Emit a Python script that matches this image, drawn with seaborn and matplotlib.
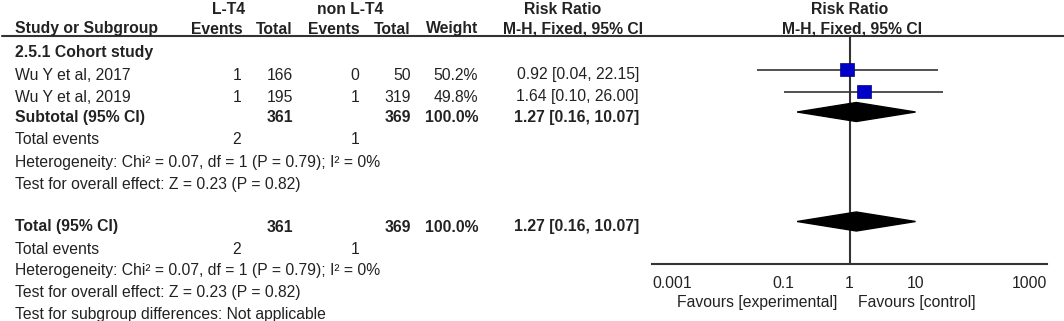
import numpy as np
import pandas as pd
import seaborn as sns
import matplotlib.pyplot as plt

# study data
studies = ["Wu Y et al, 2017", "Wu Y et al, 2019"]
lt4_events = [1, 1]
lt4_total = [166, 195]
non_events = [0, 1]
non_total = [50, 319]
weights = [50.2, 49.8]
rr = [0.92, 1.64]
rr_lo = [0.04, 0.10]
rr_hi = [22.15, 26.00]

# pooled result (subtotal and total are the same here)
pooled = [1.27, 0.16, 10.07]
sum_lt4_total = 361
sum_non_total = 369
sum_lt4_events = 2
sum_non_events = 1
het_text = "Heterogeneity: Chi\u00b2 = 0.07, df = 1 (P = 0.79); I\u00b2 = 0%"
effect_text = "Test for overall effect: Z = 0.23 (P = 0.82)"
subgroup_text = "Test for subgroup differences: Not applicable"

ticks = [0.001, 0.1, 1, 10, 1000]
tick_labels = ["0.001", "0.1", "1", "10", "1000"]

sns.set_theme(style="white")
plt.rcParams["font.family"] = ["Liberation Sans", "DejaVu Sans"]

TXT = "#222222"
LINE = "#333333"
FS = 11.3
W, H = 1064, 321

fig = plt.figure(figsize=(W / 100, H / 100), dpi=100)

# text layer in pixel units
tab = fig.add_axes([0, 0, 1, 1])
tab.set_xlim(0, W)
tab.set_ylim(H, 0)
tab.axis("off")

# row positions (pixels from top); text sits a bit below the marks
y_h1, y_h2, y_line = 9, 29, 35.5
y_group = 52
y_study = [69.5, 91.5]
y_sub, y_sub_ev, y_sub_het, y_sub_eff = 112, 134.5, 156.5, 178.5
y_tot, y_tot_ev, y_tot_het, y_tot_eff, y_sg = 221.5, 243.5, 265.5, 287.5, 309
dy_txt = 5.5
y_axis = 264

# column x positions (right edges)
x_name = 15
x_ev1, x_tot1, x_ev2, x_tot2, x_w, x_ci = 243, 293, 360, 411, 478, 639


def t(x, y, s, ha="left", bold=False):
    tab.text(x, y, s, ha=ha, va="center", fontsize=FS, color=TXT,
             fontweight="bold" if bold else "normal")


def row(x, y, s, ha="left", bold=False):
    t(x, y + dy_txt, s, ha=ha, bold=bold)


# headers
t(229, y_h1, "L-T4", ha="center", bold=True)
t(350, y_h1, "non L-T4", ha="center", bold=True)
t(563, y_h1, "Risk Ratio", ha="center", bold=True)
t(850, y_h1, "Risk Ratio", ha="center", bold=True)
t(x_name, y_h2, "Study or Subgroup", bold=True)
t(x_ev1, y_h2, "Events", ha="right", bold=True)
t(x_tot1, y_h2, "Total", ha="right", bold=True)
t(x_ev2, y_h2, "Events", ha="right", bold=True)
t(x_tot2, y_h2, "Total", ha="right", bold=True)
t(x_w, y_h2, "Weight", ha="right", bold=True)
t(x_ci + 4, y_h2, "M-H, Fixed, 95% CI", ha="right", bold=True)
t(852, y_h2, "M-H, Fixed, 95% CI", ha="center", bold=True)
tab.plot([2, W], [y_line, y_line], color=LINE, lw=1.5)

t(x_name, y_group, "2.5.1 Cohort study", bold=True)

for i, name in enumerate(studies):
    y = y_study[i]
    row(x_name, y, name)
    row(x_ev1 - 2, y, str(lt4_events[i]), ha="right")
    row(x_tot1, y, str(lt4_total[i]), ha="right")
    row(x_ev2 - 1, y, str(non_events[i]), ha="right")
    row(x_tot2, y, str(non_total[i]), ha="right")
    row(x_w, y, f"{weights[i]:.1f}%", ha="right")
    row(x_ci, y, f"{rr[i]:.2f} [{rr_lo[i]:.2f}, {rr_hi[i]:.2f}]", ha="right")

ci_pooled = f"{pooled[0]:.2f} [{pooled[1]:.2f}, {pooled[2]:.2f}]"
for label, ys in [("Subtotal (95% CI)", (y_sub, y_sub_ev, y_sub_het, y_sub_eff)),
                  ("Total (95% CI)", (y_tot, y_tot_ev, y_tot_het, y_tot_eff))]:
    y0, y1, y2, y3 = ys
    row(x_name, y0, label, bold=True)
    row(x_tot1, y0, str(sum_lt4_total), ha="right", bold=True)
    row(x_tot2, y0, str(sum_non_total), ha="right", bold=True)
    row(x_w, y0, f"{sum(weights):.1f}%", ha="right", bold=True)
    row(x_ci, y0, ci_pooled, ha="right", bold=True)
    row(x_name, y1, "Total events")
    row(x_ev1 - 2, y1, str(sum_lt4_events), ha="right")
    row(x_ev2 - 1, y1, str(sum_non_events), ha="right")
    row(x_name, y2, het_text)
    row(x_name, y3, effect_text)
row(x_name, y_sg, subgroup_text)

# forest panel: log x, same pixel rows on y
fx = fig.add_axes([652 / W, (H - y_axis) / H, (1047 - 652) / W, (y_axis - y_line) / H])
fx.patch.set_alpha(0)
fx.set_xscale("log")
fx.set_xlim(ticks[0], ticks[-1])
fx.set_ylim(y_axis, y_line)

df = pd.DataFrame({"study": studies, "rr": rr, "lo": rr_lo, "hi": rr_hi,
                   "weight": weights, "y": y_study})
fx.axvline(1, color=LINE, lw=1.5, zorder=1)
fx.hlines(df["y"], df["lo"], df["hi"], color=LINE, lw=1.2, zorder=2)
sns.scatterplot(data=df, x="rr", y="y", size="weight", sizes=(100, 101),
                marker="s", color="#0000C8", edgecolor="#000080", linewidth=0.5,
                legend=False, zorder=3, ax=fx)

est, lo, hi = pooled
for yd in (y_sub, y_tot):
    fx.fill([lo, est, hi, est], [yd, yd - 9.5, yd, yd + 9.5], color="black", zorder=3)

for s in ("top", "left", "right"):
    fx.spines[s].set_visible(False)
fx.spines["bottom"].set_color(LINE)
fx.spines["bottom"].set_linewidth(1.5)
fx.set_yticks([])
fx.set_xticks(ticks)
fx.set_xticklabels(tick_labels)
fx.minorticks_off()
fx.tick_params(axis="x", direction="inout", length=11, width=1.5, color=LINE,
               labelsize=FS, labelcolor=TXT, pad=3)
labs = fx.get_xticklabels()
labs[0].set_ha("left")
labs[-1].set_ha("right")
fx.set_xlabel("")
fx.set_ylabel("")

t(837, 302, "Favours [experimental]", ha="right")
t(858, 302, "Favours [control]")

fig.savefig("out.png", dpi=100)
